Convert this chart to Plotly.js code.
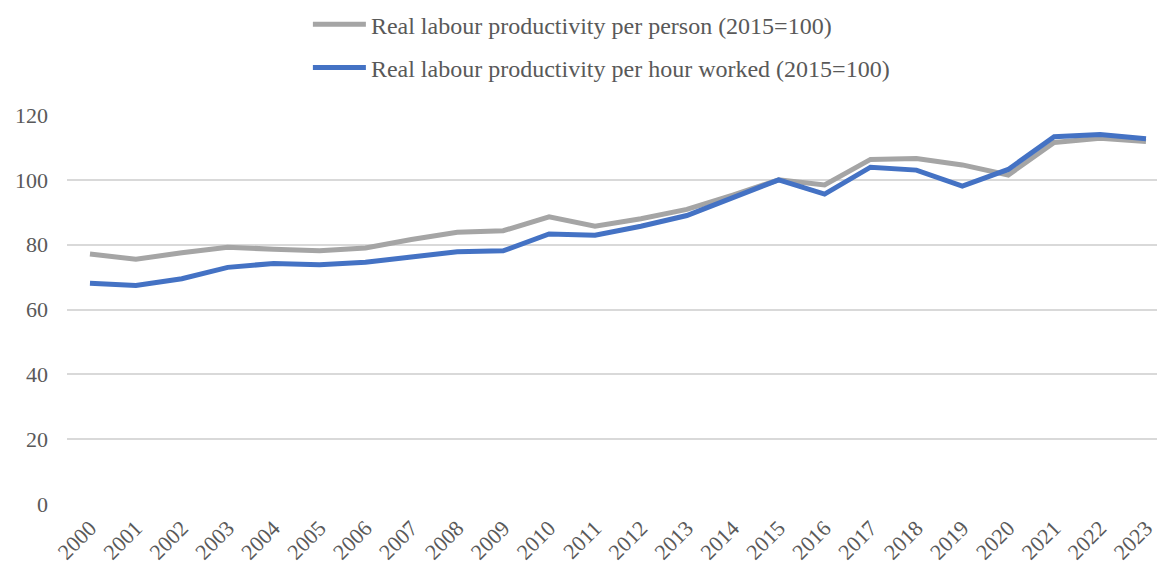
<!DOCTYPE html>
<html>
<head>
<meta charset="utf-8">
<script src="https://cdn.plot.ly/plotly-3.0.1.min.js"></script>
<style>
  html, body { margin: 0; padding: 0; background: #ffffff; overflow: hidden; }
  #chart { width: 1157px; height: 569px; }
</style>
</head>
<body>
<div id="chart"></div>
<script>
// Years on the category axis
const years = ['2000','2001','2002','2003','2004','2005','2006','2007','2008','2009','2010','2011',
               '2012','2013','2014','2015','2016','2017','2018','2019','2020','2021','2022','2023'];

// Real labour productivity per person (2015=100)
const perPerson = [77.1, 75.5, 77.5, 79.2, 78.6, 78.1, 79.0, 81.6, 83.8, 84.3, 88.6, 85.7,
                   88.0, 90.9, 95.3, 100.0, 98.4, 106.3, 106.6, 104.6, 101.5, 111.5, 112.8, 111.8];

// Real labour productivity per hour worked (2015=100)
const perHour = [68.1, 67.4, 69.5, 73.0, 74.2, 73.8, 74.6, 76.1, 77.8, 78.1, 83.3, 82.9,
                 85.7, 89.0, 94.3, 100.0, 95.6, 103.9, 103.0, 98.1, 103.2, 113.3, 114.0, 112.7];

const yTicks = [0, 20, 40, 60, 80, 100, 120];

const FONT = 'Liberation Serif, Times New Roman, serif';
const TEXT = '#595959';

const traces = [
  {
    x: years, y: perPerson, type: 'scatter', mode: 'lines',
    name: 'Real labour productivity per person (2015=100)',
    legendgroup: 'person',
    line: { color: '#A5A5A5', width: 5 }
  },
  {
    x: years, y: perHour, type: 'scatter', mode: 'lines',
    name: 'Real labour productivity per hour worked (2015=100)',
    legendgroup: 'hour',
    line: { color: '#4472C4', width: 5 }
  }
];

const layout = {
  width: 1157, height: 569,
  margin: { l: 67, r: 0, t: 115, b: 65, pad: 0 },
  paper_bgcolor: '#ffffff', plot_bgcolor: '#ffffff',
  font: { family: FONT, size: 22, color: TEXT },
  showlegend: true,
  legend: {
    orientation: 'v',
    x: 0.221, xanchor: 'left',
    y: 1.290, yanchor: 'top',
    font: { family: FONT, size: 24, color: TEXT },
    itemwidth: 53,
    tracegroupgap: 9,
    bgcolor: 'rgba(0,0,0,0)'
  },
  xaxis: {
    type: 'category',
    range: [-0.5, 23.24],
    showgrid: false, zeroline: false, showline: false,
    ticks: '', tickangle: -45,
    ticklabelstandoff: 6,
    tickfont: { family: FONT, size: 22, color: TEXT },
    fixedrange: true
  },
  yaxis: {
    range: [0, 120],
    tickvals: yTicks,
    ticktext: yTicks.map(String),
    showgrid: true, gridcolor: '#D9D9D9', gridwidth: 2,
    zeroline: false, showline: false, ticks: '',
    ticklabelstandoff: 18,
    tickfont: { family: FONT, size: 22, color: TEXT },
    fixedrange: true
  }
};

Plotly.newPlot('chart', traces, layout, { displayModeBar: false, staticPlot: true });
</script>
</body>
</html>
